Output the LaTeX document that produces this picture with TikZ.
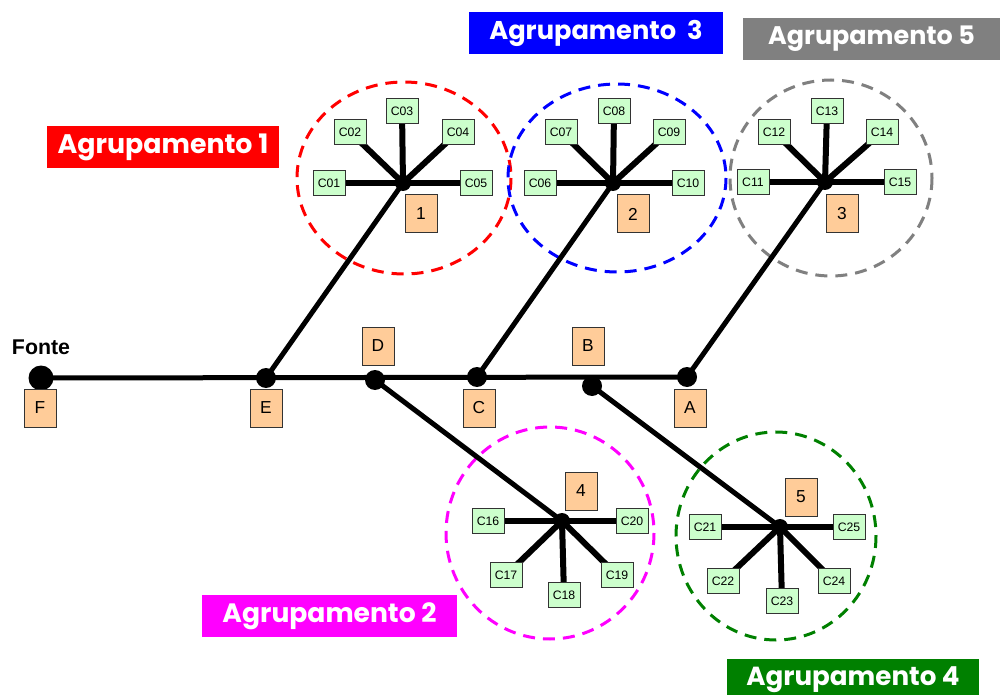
\documentclass[tikz,border=0pt]{standalone}
\usepackage{fontspec}
\setmainfont{Liberation Sans}
\newfontfamily\gfont{Poppins}
\usetikzlibrary{backgrounds}
\definecolor{cfill}{HTML}{CCFFCC}
\definecolor{lfill}{HTML}{FFCC99}
\definecolor{bord}{HTML}{333333}
\definecolor{ggreen}{HTML}{008000}
\definecolor{ggray}{HTML}{808080}
\definecolor{gmag}{HTML}{FF00FF}
\definecolor{gred}{HTML}{FF0000}
\definecolor{gblue}{HTML}{0000FF}
\tikzset{
  cbox/.style={draw=bord, fill=cfill, line width=0.75pt, minimum width=24pt, minimum height=19pt, inner sep=0pt, font=\fontsize{9.2}{10}\selectfont},
  lbox/.style={draw=bord, fill=lfill, line width=0.75pt, minimum width=24pt, minimum height=28.5pt, inner sep=0pt, font=\fontsize{13}{14}\selectfont},
  jdot/.style={circle, fill=black, inner sep=0pt, minimum size=15pt},
  hub/.style={circle, fill=black, inner sep=0pt, minimum size=12pt},
  grp/.style={inner sep=0pt, minimum height=31.5pt, text=white},
  wire/.style={line width=3.75pt, black},
  spoke/.style={line width=4.5pt, black},
  ring/.style={line width=2.25pt, dash pattern=on 9pt off 6pt},
}
\newcommand{\grptext}[1]{\resizebox{158pt}{!}{\gfont\bfseries #1}}
\begin{document}
\begin{tikzpicture}[x=0.75pt,y=-0.75pt]
\clip (0,0) rectangle (1003,695);
% junctions
\node[jdot, minimum size=18.75pt] (F) at (41,378) {};
\node[jdot] (E) at (266,378) {};
\node[jdot] (D) at (375,380) {};
\node[jdot] (C) at (477,377) {};
\node[jdot] (B) at (592,386) {};
\node[jdot] (A) at (687,377) {};
\node[font=\bfseries\fontsize{16}{17}\selectfont] (fonte) at (41,347) {Fonte};
% letter boxes
\node[lbox] (lF) at (40,408) {F};
\node[lbox] (lE) at (266,408) {E};
\node[lbox] (lC) at (479,408) {C};
\node[lbox] (lA) at (690,408) {A};
\node[lbox] (lD) at (378,346) {D};
\node[lbox] (lB) at (588,346) {B};
% hubs
\node[hub] (h1) at (403,183) {};
\node[hub] (h2) at (613,183) {};
\node[hub] (h3) at (825,182) {};
\node[hub] (h4) at (562,521) {};
\node[hub] (h5) at (780,527) {};
\node[lbox] (n1) at (421,214) {1};
\node[lbox] (n2) at (633,214) {2};
\node[lbox] (n3) at (842,214) {3};
\node[lbox] (n4) at (581,491) {4};
\node[lbox] (n5) at (801,497) {5};
% consumer boxes
\node[cbox] (c01) at (329,183) {C01};
\node[cbox] (c02) at (350,132) {C02};
\node[cbox] (c03) at (402,111) {C03};
\node[cbox] (c04) at (458,132) {C04};
\node[cbox] (c05) at (476,183) {C05};
\node[cbox] (c06) at (540,183) {C06};
\node[cbox] (c07) at (561,132) {C07};
\node[cbox] (c08) at (614,111) {C08};
\node[cbox] (c09) at (669,132) {C09};
\node[cbox] (c10) at (688,183) {C10};
\node[cbox] (c11) at (753,182) {C11};
\node[cbox] (c12) at (774,132) {C12};
\node[cbox] (c13) at (827,111) {C13};
\node[cbox] (c14) at (882,132) {C14};
\node[cbox] (c15) at (900,182) {C15};
\node[cbox] (c16) at (488,521) {C16};
\node[cbox] (c17) at (506,575) {C17};
\node[cbox] (c18) at (564,595) {C18};
\node[cbox] (c19) at (617,575) {C19};
\node[cbox] (c20) at (632,521) {C20};
\node[cbox] (c21) at (705,527) {C21};
\node[cbox] (c22) at (723,581) {C22};
\node[cbox] (c23) at (782,601) {C23};
\node[cbox] (c24) at (834,581) {C24};
\node[cbox] (c25) at (849,527) {C25};
% group labels
\node[grp, fill=gred, minimum width=174pt] (g1) at (163,147) {\grptext{Agrupamento 1}};
\node[grp, fill=gblue, minimum width=190.5pt] (g3) at (596,33) {\resizebox{160pt}{!}{\gfont\bfseries Agrupamento~~3}};
\node[grp, fill=ggray, minimum width=192.75pt] (g5) at (871.5,39) {\resizebox{155pt}{!}{\gfont\bfseries Agrupamento 5}};
\node[grp, fill=gmag, minimum width=191.25pt] (g2) at (329.5,616) {\resizebox{160.5pt}{!}{\gfont\bfseries Agrupamento 2}};
\node[grp, fill=ggreen, minimum width=189pt] (g4) at (853,680) {\resizebox{160pt}{!}{\gfont\bfseries Agrupamento 4}};
\begin{scope}[on background layer]
\fill[white] (0,0) rectangle (1003,695);
\draw[ring, gred] (404,178) ellipse [x radius=107, y radius=96];
\draw[ring, gblue] (617,178) ellipse [x radius=109, y radius=94];
\draw[ring, ggray] (831,178) ellipse [x radius=101, y radius=98];
\draw[ring, gmag] (550,533) ellipse [x radius=104, y radius=106];
\draw[ring, ggreen] (776,536) ellipse [x radius=100, y radius=104];
\draw[wire] (F.center) -- (A.center);
\draw[wire] (E.center) -- (h1.center);
\draw[wire] (C.center) -- (h2.center);
\draw[wire] (A.center) -- (h3.center);
\draw[wire] (D.center) -- (h4.center);
\draw[wire] (B.center) -- (h5.center);
\foreach \h/\list in {h1/{c01,c02,c03,c04,c05}, h2/{c06,c07,c08,c09,c10}, h3/{c11,c12,c13,c14,c15}, h4/{c16,c17,c18,c19,c20}, h5/{c21,c22,c23,c24,c25}}{
  \foreach \c in \list { \draw[spoke] (\h.center) -- (\c.center); }
}
\end{scope}
\end{tikzpicture}
\end{document}
